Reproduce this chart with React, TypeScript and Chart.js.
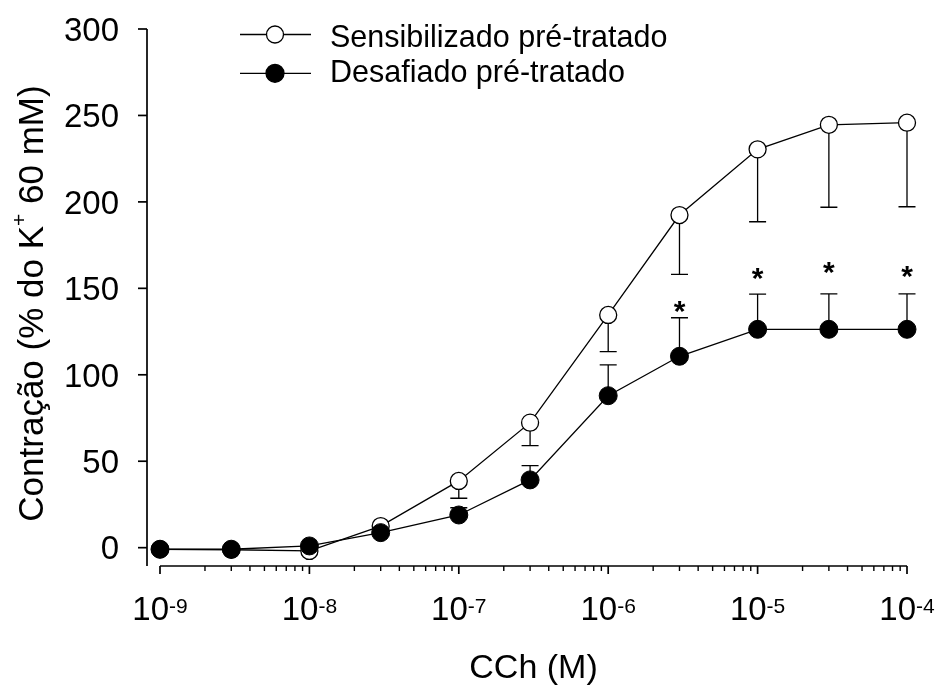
import React, { useEffect, useRef } from 'react';
import { Chart, registerables } from 'chart.js';

Chart.register(...registerables);

// ---- data ----
const concentrations = [1e-9, 3e-9, 1e-8, 3e-8, 1e-7, 3e-7, 1e-6, 3e-6, 1e-5, 3e-5, 1e-4];
const sensibilizado = [-1, -1.2, -1.9, 12.5, 38.6, 72.3, 134.6, 192.4, 230.4, 244.6, 245.8];
const sensibilizadoLower = [null, null, null, null, 28.6, 59, 113.4, 158.1, 188.5, 196.9, 197.2];
const desafiado = [-0.9, -0.9, 1.0, 8.7, 18.9, 39.2, 87.9, 110.7, 126.3, 126.3, 126.3];
const desafiadoUpper = [null, null, null, null, 23.1, 47.4, 105.7, 133, 146.6, 146.8, 146.8];
const asteriskX = [3e-6, 1e-5, 3e-5, 1e-4];
const asteriskY = [141.5, 160.6, 163.5, 161.2];

const yTicks = [0, 50, 100, 150, 200, 250, 300];
const xTickValues = [1e-9, 1e-8, 1e-7, 1e-6, 1e-5, 1e-4];
const xTickExponents = ['-9', '-8', '-7', '-6', '-5', '-4'];
const legendLabels = ['Sensibilizado pré-tratado', 'Desafiado pré-tratado'];
const xTitle = 'CCh (M)';
const yTitleParts = ['Contração (% do K', '+', ' 60 mM)'];

const FONT = '"Liberation Sans", Arial, Helvetica, sans-serif';

const overlay = {
  id: 'overlay',
  beforeDatasetsDraw(chart: any) {
    const ctx = chart.ctx;
    const xs = chart.scales.x;
    const ys = chart.scales.y;
    ctx.save();
    ctx.strokeStyle = '#000';
    ctx.lineWidth = 1.3;
    const cap = 8.5;
    const drawErr = (vals: number[], errs: (number | null)[]) => {
      concentrations.forEach((c, i) => {
        const e = errs[i];
        if (e === null || e === undefined) return;
        const x = xs.getPixelForValue(c);
        const y0 = ys.getPixelForValue(vals[i]);
        const y1 = ys.getPixelForValue(e);
        ctx.beginPath();
        ctx.moveTo(x, y0);
        ctx.lineTo(x, y1);
        ctx.moveTo(x - cap, y1);
        ctx.lineTo(x + cap, y1);
        ctx.stroke();
      });
    };
    drawErr(sensibilizado, sensibilizadoLower);
    drawErr(desafiado, desafiadoUpper);
    ctx.restore();
  },
  afterDatasetsDraw(chart: any) {
    const ctx = chart.ctx;
    const xs = chart.scales.x;
    const ys = chart.scales.y;
    const area = chart.chartArea;
    ctx.save();
    ctx.strokeStyle = '#000';
    ctx.fillStyle = '#000';
    ctx.lineWidth = 1.7;

    // y axis
    const yAxisX = area.left - 13;
    ctx.beginPath();
    ctx.moveTo(yAxisX, ys.getPixelForValue(300));
    ctx.lineTo(yAxisX, area.bottom);
    ctx.stroke();
    ctx.font = `33px ${FONT}`;
    ctx.textAlign = 'right';
    ctx.textBaseline = 'alphabetic';
    yTicks.forEach((v) => {
      const y = ys.getPixelForValue(v);
      ctx.beginPath();
      ctx.moveTo(yAxisX - 9, y);
      ctx.lineTo(yAxisX, y);
      ctx.stroke();
      ctx.fillText(String(v), yAxisX - 28, y + 11.8);
    });

    // x axis
    const xAxisY = area.bottom;
    ctx.beginPath();
    ctx.moveTo(xs.getPixelForValue(1e-9), xAxisY);
    ctx.lineTo(xs.getPixelForValue(1e-4), xAxisY);
    ctx.stroke();
    ctx.lineWidth = 1.4;
    for (let d = -9; d <= -5; d++) {
      for (let m = 2; m <= 9; m++) {
        const x = xs.getPixelForValue(m * Math.pow(10, d));
        ctx.beginPath();
        ctx.moveTo(x, xAxisY);
        ctx.lineTo(x, xAxisY + 5);
        ctx.stroke();
      }
    }
    ctx.lineWidth = 1.7;
    xTickValues.forEach((v, i) => {
      const x = xs.getPixelForValue(v);
      ctx.beginPath();
      ctx.moveTo(x, xAxisY);
      ctx.lineTo(x, xAxisY + 8);
      ctx.stroke();
      ctx.textAlign = 'left';
      ctx.font = `33px ${FONT}`;
      const w1 = ctx.measureText('10').width;
      ctx.font = `21px ${FONT}`;
      const w2 = ctx.measureText(xTickExponents[i]).width;
      const start = x - (w1 + w2) / 2;
      const base = xAxisY + 54;
      ctx.font = `33px ${FONT}`;
      ctx.fillText('10', start, base);
      ctx.font = `21px ${FONT}`;
      ctx.fillText(xTickExponents[i], start + w1, base - 7.5);
    });

    // x title
    ctx.font = `34px ${FONT}`;
    ctx.textAlign = 'center';
    ctx.fillText(xTitle, (area.left + area.right) / 2, 678);

    // y title (rotated)
    ctx.save();
    ctx.translate(42.5, 303.5);
    ctx.rotate(-Math.PI / 2);
    ctx.textAlign = 'left';
    ctx.font = `35px ${FONT}`;
    const a = ctx.measureText(yTitleParts[0]).width;
    const c2 = ctx.measureText(yTitleParts[2]).width;
    ctx.font = `21px ${FONT}`;
    const b = ctx.measureText(yTitleParts[1]).width;
    let sx = -(a + b + c2) / 2;
    ctx.font = `35px ${FONT}`;
    ctx.fillText(yTitleParts[0], sx, 0);
    sx += a;
    ctx.font = `21px ${FONT}`;
    ctx.fillText(yTitleParts[1], sx, -17);
    sx += b;
    ctx.font = `35px ${FONT}`;
    ctx.fillText(yTitleParts[2], sx, 0);
    ctx.restore();

    // asterisks
    ctx.font = `bold 30px ${FONT}`;
    ctx.textAlign = 'center';
    asteriskX.forEach((v, i) => {
      ctx.fillText('*', xs.getPixelForValue(v), ys.getPixelForValue(asteriskY[i]) + 17.5);
    });

    // legend
    const rows = [
      { y: 34.5, base: 46.7, fill: '#fff', r: 8.5 },
      { y: 73.3, base: 81.5, fill: '#000', r: 9 },
    ];
    rows.forEach((row, i) => {
      ctx.lineWidth = 1.3;
      ctx.beginPath();
      ctx.moveTo(240, row.y);
      ctx.lineTo(311, row.y);
      ctx.stroke();
      ctx.beginPath();
      ctx.arc(275, row.y, row.r, 0, Math.PI * 2);
      ctx.fillStyle = row.fill;
      ctx.fill();
      ctx.stroke();
      ctx.fillStyle = '#000';
      ctx.font = `30.5px ${FONT}`;
      ctx.textAlign = 'left';
      ctx.fillText(legendLabels[i], 330, row.base);
    });
    ctx.restore();
  },
};

export default function App() {
  const ref = useRef<HTMLCanvasElement | null>(null);
  useEffect(() => {
    if (!ref.current) return;
    const chart = new Chart(ref.current, {
      type: 'line',
      data: {
        datasets: [
          {
            label: legendLabels[1],
            data: concentrations.map((x, i) => ({ x, y: desafiado[i] })),
            borderColor: '#000',
            borderWidth: 1.3,
            pointRadius: 9,
            pointBackgroundColor: '#000',
            pointBorderColor: '#000',
            pointBorderWidth: 1,
            clip: false,
            order: 0,
          },
          {
            label: legendLabels[0],
            data: concentrations.map((x, i) => ({ x, y: sensibilizado[i] })),
            borderColor: '#000',
            borderWidth: 1.3,
            pointRadius: 8.5,
            pointBackgroundColor: '#fff',
            pointBorderColor: '#000',
            pointBorderWidth: 1.3,
            clip: false,
            order: 1,
          },
        ],
      },
      options: {
        animation: false,
        responsive: false,
        events: [],
        layout: { padding: { left: 160, right: 35, top: 29, bottom: 122 } },
        plugins: { legend: { display: false }, tooltip: { enabled: false } },
        scales: {
          x: { type: 'logarithmic', min: 1e-9, max: 1e-4, display: false },
          y: { type: 'linear', min: -10.6, max: 300, display: false },
        },
      },
      plugins: [overlay],
    } as any);
    return () => chart.destroy();
  }, []);
  return (
    <canvas
      ref={ref}
      width={942}
      height={688}
      style={{ position: 'absolute', left: 0, top: 0, display: 'block' }}
    />
  );
}
